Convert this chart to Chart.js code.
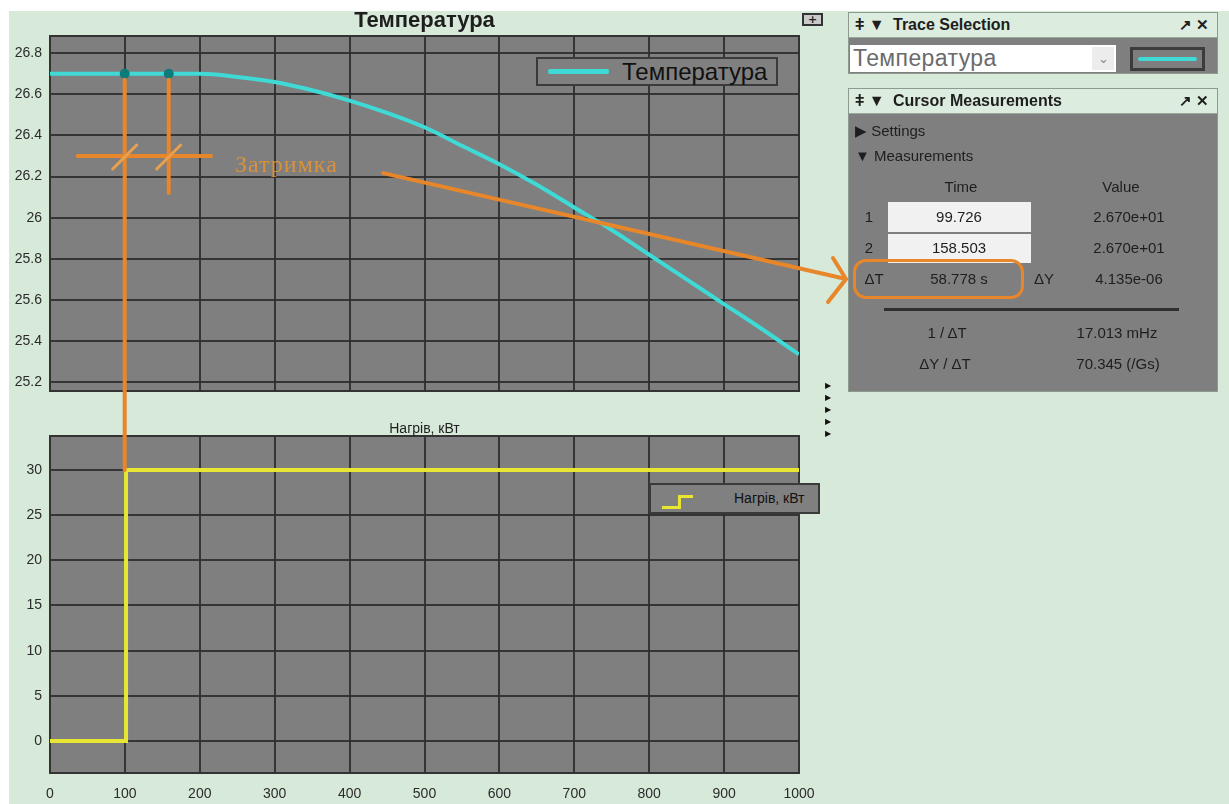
<!DOCTYPE html>
<html>
<head>
<meta charset="utf-8">
<script src="https://cdn.jsdelivr.net/npm/chart.js@4.4.0/dist/chart.umd.min.js"></script>
<style>
body { margin: 0; width: 1229px; height: 804px; overflow: hidden; position: relative; background: #fff; font-family: "Liberation Sans", Arial, sans-serif; color: #1e1e1e; }
#scope { position: absolute; left: 9px; top: 11px; width: 1220px; height: 793px; background: #d7e9d9; }
canvas { position: absolute; }
.abs { position: absolute; }
.title { left: 50px; width: 749px; text-align: center; }
.legend { box-sizing: border-box; border: 2px solid #3a3a3a; background: #808080; }
.panel { position: absolute; left: 848px; width: 370px; background: #7f7f7f; border: 1px solid #8d9b8f; box-sizing: border-box; }
.panel .head { position: absolute; left: 0; top: 0; right: 0; height: 24px; background: #dcecde; border-bottom: 1px solid #9aa79c; font-weight: bold; font-size: 16px; line-height: 24px; }
.panel .cell { position: absolute; font-size: 15px; line-height: 18px; text-align: center; }
.box { position: absolute; background: #f1f1f1; }
</style>
</head>
<body>
<div id="scope"></div>

<canvas id="tempCanvas" width="819" height="395" style="left:0px;top:16px"></canvas>
<canvas id="heatCanvas" width="830" height="388" style="left:0px;top:416px"></canvas>

<div class="abs title" style="top:8px;font-weight:bold;font-size:22px;line-height:24px">Температура</div>
<div class="abs title" style="top:420px;font-size:14px;line-height:16px">Нагрів, кВт</div>

<!-- legends -->
<div class="abs legend" style="left:536px;top:57px;width:242px;height:29px">
  <div class="abs" style="left:10px;top:10px;width:61px;height:5px;background:#3fd9d6;border-radius:2px"></div>
  <div class="abs" style="left:84px;top:0px;font-size:24px;line-height:26px;color:#111">Температура</div>
</div>
<div class="abs legend" style="left:649px;top:483px;width:171px;height:31px">
  <div class="abs" style="left:11px;top:10px;width:16px;height:11px;border-right:3px solid #e8e633;border-bottom:3px solid #e8e633"></div>
  <div class="abs" style="left:27px;top:10px;width:15px;height:3px;background:#e8e633"></div>
  <div class="abs" style="left:83px;top:0px;font-size:14px;line-height:27px;color:#111">Нагрів, кВт</div>
</div>

<!-- scope window bits -->
<div class="abs" style="left:802px;top:13px;width:21px;height:13px;box-sizing:border-box;border:2px solid #333;background:#c9c9c9;font:bold 11px/9px 'DejaVu Sans';text-align:center;color:#222">+</div>
<div class="abs" style="left:825px;top:380px;font-size:8px;line-height:12px;color:#111">▶<br>▶<br>▶<br>▶<br>▶</div>

<!-- trace selection -->
<div class="panel" style="top:12px;height:62px">
  <div class="head"><span class="abs" style="left:6px">ǂ ▼</span><span class="abs" style="left:44px">Trace Selection</span><span class="abs" style="right:8px;font-size:15px">↗ ✕</span></div>
  <div class="box" style="left:1px;top:32px;width:266px;height:27px;background:#fff">
    <div class="abs" style="left:3px;top:0px;font-size:23px;line-height:27px;color:#6b6b6b;letter-spacing:0.4px">Температура</div>
    <div class="abs" style="left:242px;top:2px;width:22px;height:23px;background:#ececec;color:#888;font-size:13px;line-height:23px;text-align:center">⌄</div>
  </div>
  <div class="abs" style="left:281px;top:34px;width:75px;height:24px;box-sizing:border-box;border:3px solid #3c3c3c;background:#7e7e7e">
    <div class="abs" style="left:5px;top:7px;width:59px;height:4px;background:#3fd9d6;border-radius:2px"></div>
  </div>
</div>

<!-- cursor measurements -->
<div class="panel" id="cursorPanel" style="top:88px;height:304px">
  <div class="head"><span class="abs" style="left:6px">ǂ ▼</span><span class="abs" style="left:44px">Cursor Measurements</span><span class="abs" style="right:8px;font-size:15px">↗ ✕</span></div>
  <div class="cell" style="left:6px;top:33px;text-align:left">▶ Settings</div>
  <div class="cell" style="left:6px;top:58px;text-align:left">▼ Measurements</div>
  <div class="cell" style="left:72px;top:89px;width:80px">Time</div>
  <div class="cell" style="left:232px;top:89px;width:80px">Value</div>
  <div class="box" style="left:39px;top:113px;width:143px;height:30px"></div>
  <div class="box" style="left:39px;top:145px;width:143px;height:29px"></div>
  <div class="cell" style="left:15px;top:119px;width:10px">1</div>
  <div class="cell" id="t1" style="left:62px;top:119px;width:96px"></div>
  <div class="cell" id="v1" style="left:230px;top:119px;width:100px"></div>
  <div class="cell" style="left:15px;top:150px;width:10px">2</div>
  <div class="cell" id="t2" style="left:62px;top:150px;width:96px"></div>
  <div class="cell" id="v2" style="left:230px;top:150px;width:100px"></div>
  <div class="abs" id="dtBox" style="left:4px;top:170px;width:171px;height:40px;box-sizing:border-box;border:3px solid #e8862a;border-radius:13px"></div>
  <div class="cell" style="left:10px;top:181px;width:30px">ΔT</div>
  <div class="cell" id="dt" style="left:62px;top:181px;width:96px"></div>
  <div class="cell" style="left:180px;top:181px;width:30px">ΔY</div>
  <div class="cell" id="dy" style="left:230px;top:181px;width:100px"></div>
  <div class="abs" style="left:35px;top:219px;width:295px;height:3px;background:#2e2e2e"></div>
  <div class="cell" style="left:48px;top:235px;width:100px">1 / ΔT</div>
  <div class="cell" id="freq" style="left:208px;top:235px;width:120px"></div>
  <div class="cell" style="left:46px;top:266px;width:100px">ΔY / ΔT</div>
  <div class="cell" id="slope" style="left:209px;top:266px;width:120px"></div>
</div>

<canvas id="overlay" width="1229" height="804" style="left:0px;top:0px;pointer-events:none;z-index:5"></canvas>

<script>
// Simulation time axis and the temperature trace.
const timeSec = [0, 50, 100, 150, 200, 250, 300, 350, 400, 450, 500, 550, 600, 650, 700, 750, 800, 850, 900, 950, 1000];
const temperature = [26.70, 26.70, 26.70, 26.70, 26.70, 26.685, 26.66, 26.62, 26.57, 26.51, 26.44, 26.35, 26.26, 26.16, 26.05, 25.94, 25.82, 25.70, 25.58, 25.46, 25.335];

// Heater power, a single step.
const heatTime = [0, 101.5, 1000];
const heatPower = [0, 30, 30];

// Cursors and what the measurement panel shows.
const cursorTimes = [99.726, 158.503];
const cursorValues = [26.7, 26.7];
const cursorTimeText = ["99.726", "158.503"];
const cursorValueText = ["2.670e+01", "2.670e+01"];
const deltaText = ["58.778 s", "4.135e-06", "17.013 mHz", "70.345 (/Gs)"];

// Tick labels and axis limits.
const timeTicks = [0, 100, 200, 300, 400, 500, 600, 700, 800, 900, 1000];
const tempTicks = [25.2, 25.4, 25.6, 25.8, 26, 26.2, 26.4, 26.6, 26.8];
const heatTicks = [0, 5, 10, 15, 20, 25, 30];
const tempRange = [25.157, 26.884];
const heatRange = [-3.54, 33.76];

// Annotation anchors (data units).
const delayLevel = 26.3;
const delaySpan = [37, 215];
const delayLabel = "Затримка";
const delayLabelAt = [247, 26.22];
const cursor2Bottom = 26.12;
const arrowStart = [445, 26.217];

document.querySelector('#t1').textContent = cursorTimeText[0];
document.querySelector('#t2').textContent = cursorTimeText[1];
document.querySelector('#v1').textContent = cursorValueText[0];
document.querySelector('#v2').textContent = cursorValueText[1];
document.querySelector('#dt').textContent = deltaText[0];
document.querySelector('#dy').textContent = deltaText[1];
document.querySelector('#freq').textContent = deltaText[2];
document.querySelector('#slope').textContent = deltaText[3];

const gridColor = 'rgba(45,45,45,0.9)';

// Gray plot background and a closed frame, like the scope.
const plotFrame = {
	id: 'plotFrame',
	beforeDraw(chart) {
		const a = chart.chartArea;
		chart.ctx.save();
		chart.ctx.fillStyle = '#7f7f7f';
		chart.ctx.fillRect(a.left, a.top, a.width, a.height);
		chart.ctx.restore();
	},
	beforeDatasetsDraw(chart) {
		const a = chart.chartArea;
		chart.ctx.save();
		chart.ctx.strokeStyle = '#333';
		chart.ctx.lineWidth = 2;
		chart.ctx.strokeRect(a.left, a.top, a.width, a.height);
		chart.ctx.restore();
	}
};

function fixedTicks(list) {
	return function (scale) {
		scale.ticks = list.map(v => ({ value: v }));
	};
}

Chart.defaults.font.family = '"Liberation Sans", Arial, sans-serif';

const topChart = new Chart(document.querySelector('#tempCanvas'), {
	type: 'line',
	data: {
		datasets: [{
			label: 'cursors',
			data: cursorTimes.map((t, i) => ({ x: t, y: cursorValues[i] })),
			showLine: false,
			pointRadius: 5,
			pointBackgroundColor: '#0d7b79',
			pointBorderWidth: 0
		}, {
			label: 'Температура',
			data: timeSec.map((t, i) => ({ x: t, y: temperature[i] })),
			borderColor: '#3fd9d6',
			borderWidth: 4,
			pointRadius: 0,
			cubicInterpolationMode: 'monotone'
		}]
	},
	options: {
		responsive: false,
		animation: false,
		events: [],
		layout: { padding: { top: 20, bottom: 20, left: 0, right: 20 } },
		plugins: { legend: { display: false }, tooltip: { enabled: false } },
		scales: {
			x: {
				type: 'linear', min: 0, max: 1000,
				afterBuildTicks: fixedTicks(timeTicks),
				ticks: { display: false },
				grid: { color: gridColor, lineWidth: 2, drawTicks: false },
				border: { display: false },
				afterFit: s => { s.height = 0; }
			},
			y: {
				min: tempRange[0], max: tempRange[1],
				afterBuildTicks: fixedTicks(tempTicks),
				ticks: { color: '#2b2b2b', font: { size: 14 }, padding: 8, callback: v => String(+v.toFixed(1)) },
				grid: { color: gridColor, lineWidth: 2, drawTicks: false },
				border: { display: false },
				afterFit: s => { s.width = 50; }
			}
		}
	},
	plugins: [plotFrame]
});

const heatChart = new Chart(document.querySelector('#heatCanvas'), {
	type: 'line',
	data: {
		datasets: [{
			label: 'Нагрів, кВт',
			data: heatTime.map((t, i) => ({ x: t, y: heatPower[i] })),
			borderColor: '#e8e633',
			borderWidth: 4,
			pointRadius: 0,
			stepped: 'before'
		}]
	},
	options: {
		responsive: false,
		animation: false,
		events: [],
		layout: { padding: { top: 20, bottom: 0, left: 0, right: 31 } },
		plugins: { legend: { display: false }, tooltip: { enabled: false } },
		scales: {
			x: {
				type: 'linear', min: 0, max: 1000,
				afterBuildTicks: fixedTicks(timeTicks),
				ticks: { color: '#2b2b2b', font: { size: 14 }, padding: 13, maxRotation: 0, autoSkip: false, callback: v => String(v) },
				grid: { color: gridColor, lineWidth: 2, drawTicks: false },
				border: { display: false },
				afterFit: s => { s.height = 31; }
			},
			y: {
				min: heatRange[0], max: heatRange[1],
				afterBuildTicks: fixedTicks(heatTicks),
				ticks: { color: '#2b2b2b', font: { size: 14 }, padding: 8 },
				grid: { color: gridColor, lineWidth: 2, drawTicks: false },
				border: { display: false },
				afterFit: s => { s.width = 50; }
			}
		}
	},
	plugins: [plotFrame]
});

// Orange hand-drawn marks on top of everything, placed through the chart scales.
function drawAnnotations() {
	const tc = document.querySelector('#tempCanvas');
	const hc = document.querySelector('#heatCanvas');
	const tx = v => tc.offsetLeft + topChart.scales.x.getPixelForValue(v);
	const ty = v => tc.offsetTop + topChart.scales.y.getPixelForValue(v);
	const hy = v => hc.offsetTop + heatChart.scales.y.getPixelForValue(v);
	const ctx = document.querySelector('#overlay').getContext('2d');
	const orange = '#e8862a';

	ctx.strokeStyle = orange;
	ctx.lineCap = 'round';
	ctx.lineWidth = 4;

	// cursor lines
	const c1 = tx(cursorTimes[0]);
	const c2 = tx(cursorTimes[1]);
	ctx.beginPath();
	ctx.moveTo(c1, ty(cursorValues[0]) + 6);
	ctx.lineTo(c1, hy(heatPower[1]));
	ctx.moveTo(c2, ty(cursorValues[1]) + 6);
	ctx.lineTo(c2, ty(cursor2Bottom));
	// delay bar
	const dy = ty(delayLevel);
	ctx.moveTo(tx(delaySpan[0]), dy);
	ctx.lineTo(tx(delaySpan[1]), dy);
	ctx.stroke();

	// slashes at the crossings
	ctx.strokeStyle = '#e9a04e';
	ctx.lineWidth = 3;
	ctx.beginPath();
	for (const c of [c1, c2]) {
		ctx.moveTo(c - 12, dy + 13);
		ctx.lineTo(c + 12, dy - 11);
	}
	ctx.stroke();

	// label
	ctx.fillStyle = '#d9913c';
	ctx.font = '24px "Liberation Serif", serif';
	ctx.letterSpacing = '1px';
	ctx.textBaseline = 'alphabetic';
	ctx.fillText(delayLabel, tx(delayLabelAt[0]), ty(delayLabelAt[1]));

	// arrow to the ΔT reading
	const box = document.querySelector('#dtBox').getBoundingClientRect();
	const tipX = box.left - 7;
	const tipY = box.top + box.height / 2;
	ctx.strokeStyle = orange;
	ctx.lineWidth = 4;
	ctx.beginPath();
	ctx.moveTo(tx(arrowStart[0]), ty(arrowStart[1]));
	ctx.lineTo(tipX, tipY);
	ctx.moveTo(tipX - 13, tipY - 21);
	ctx.lineTo(tipX, tipY);
	ctx.lineTo(tipX - 18, tipY + 23);
	ctx.stroke();
}

drawAnnotations();
</script>
</body>
</html>
